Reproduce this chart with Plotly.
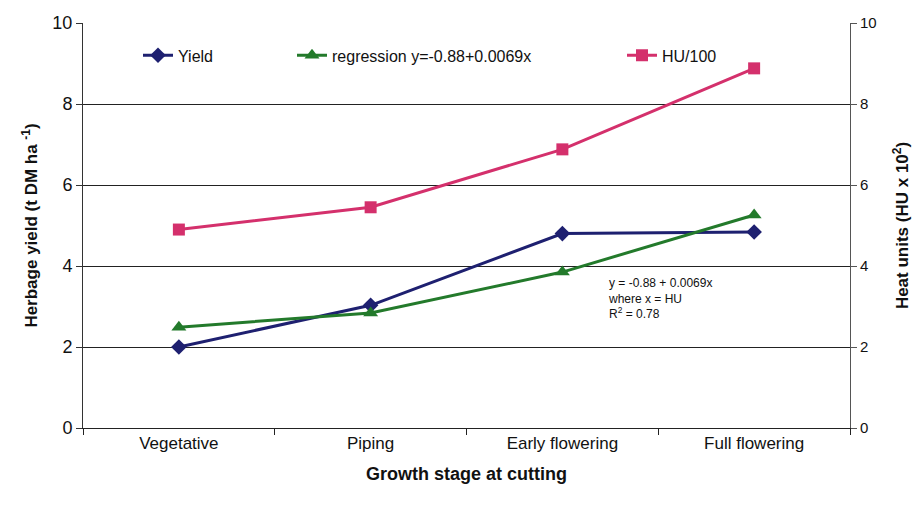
import plotly.graph_objects as go

stages = ["Vegetative", "Piping", "Early flowering", "Full flowering"]
yield_vals = [2.0, 3.03, 4.8, 4.84]
regression_vals = [2.49, 2.84, 3.85, 5.26]
hu_vals = [4.9, 5.45, 6.88, 8.88]
y_ticks = [0, 2, 4, 6, 8, 10]

FONT = "Liberation Sans, Arial, sans-serif"
C_Y = "#1e2070"
C_R = "#237a2b"
C_H = "#d4306c"

fig = go.Figure()
fig.add_trace(go.Scatter(x=stages, y=yield_vals, mode="lines+markers", name="Yield",
                         line=dict(color=C_Y, width=3),
                         marker=dict(symbol="diamond", size=12, color=C_Y),
                         legend="legend4"))
fig.add_trace(go.Scatter(x=stages, y=regression_vals, mode="lines+markers",
                         name="regression y=-0.88+0.0069x",
                         line=dict(color=C_R, width=3),
                         marker=dict(symbol="triangle-up", size=13, color=C_R),
                         legend="legend2"))
fig.add_trace(go.Scatter(x=stages, y=hu_vals, mode="lines+markers", name="HU/100",
                         line=dict(color=C_H, width=3),
                         marker=dict(symbol="square", size=12, color=C_H),
                         yaxis="y2", legend="legend3"))

leg_common = dict(orientation="h", bgcolor="rgba(0,0,0,0)", xanchor="left", yanchor="middle",
                  font=dict(family=FONT, size=16, color="#111"), itemwidth=30)
fig.update_layout(
    width=916, height=508,
    margin=dict(l=83, r=66, t=23, b=80),
    paper_bgcolor="white", plot_bgcolor="white",
    font=dict(family=FONT, color="#111"),
    legend4=dict(x=(138-83)/767, y=0.92, **leg_common),
    legend2=dict(x=(292-83)/767, y=0.92, **leg_common),
    legend3=dict(x=(622-83)/767, y=0.92, **leg_common),
    xaxis=dict(range=[-0.5, 3.5], showline=True, linecolor="#222", linewidth=1,
               ticks="outside", tickson="boundaries", ticklen=6, tickcolor="#222",
               showgrid=False, tickfont=dict(family=FONT, size=17, color="#111"),
               automargin=False,
               title=dict(text="<b>Growth stage at cutting</b>", standoff=14,
                          font=dict(family=FONT, size=18, color="#111"))),
    yaxis=dict(range=[0, 10], tickvals=y_ticks, showline=True, linecolor="#333",
               linewidth=1, ticks="outside", ticklen=6, tickcolor="#333",
               showgrid=True, gridcolor="#222", gridwidth=1, zeroline=False,
               automargin=False,
               tickfont=dict(family=FONT, size=18, color="#111"),
               title=dict(text="<b>Herbage yield (t DM ha <sup>-1</sup>)</b>", standoff=10,
                          font=dict(family=FONT, size=17, color="#111"))),
    yaxis2=dict(range=[0, 10], tickvals=y_ticks, overlaying="y", side="right",
                showline=True, linecolor="#555", linewidth=1, ticks="outside",
                ticklen=6, tickcolor="#555", showgrid=False, zeroline=False,
                automargin=False,
                tickfont=dict(family=FONT, size=15, color="#111"),
                title=dict(text="<b>Heat units (HU x 10<sup>2</sup>)</b>", standoff=20,
                           font=dict(family=FONT, size=17, color="#111"))),
)

fig.add_annotation(xref="paper", yref="y", x=(606-83)/767, y=3.8, xanchor="left", yanchor="top",
                   align="left", showarrow=False,
                   text="y = -0.88 + 0.0069x<br>where x = HU<br>R<sup>2</sup> = 0.78",
                   font=dict(family=FONT, size=12, color="#111"))

fig.write_html("out.html")
